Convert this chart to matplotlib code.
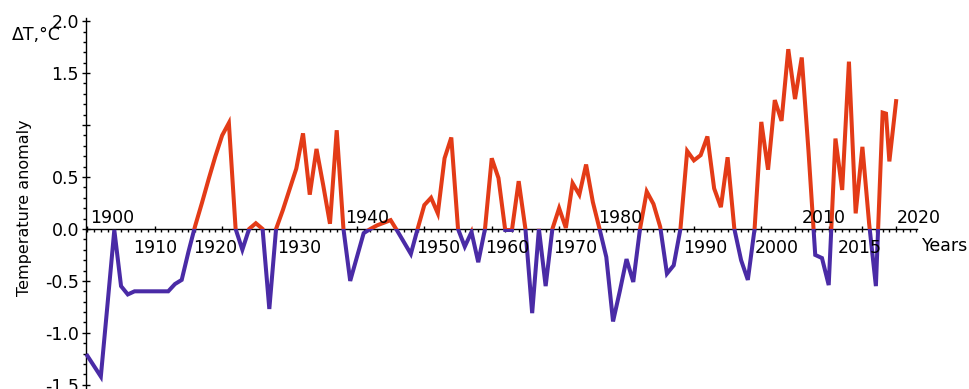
import matplotlib
matplotlib.use('Agg')
import matplotlib.pyplot as plt
from matplotlib.patches import Rectangle
from matplotlib.ticker import MultipleLocator, FixedLocator

# temperature anomaly
years = [1900, 1901, 1902, 1903, 1904, 1905, 1906, 1907, 1908, 1909,
         1910, 1911, 1912, 1913, 1914, 1915, 1916, 1917, 1918, 1919,
         1920, 1921, 1922, 1923, 1924, 1925, 1926, 1927, 1928, 1929,
         1930, 1931, 1932, 1933, 1934, 1935, 1936, 1937, 1938, 1939,
         1940, 1941, 1942, 1943, 1944, 1945, 1946, 1947, 1948, 1949,
         1950, 1951, 1952, 1953, 1954, 1955, 1956, 1957, 1958, 1959,
         1960, 1961, 1962, 1963, 1964, 1965, 1966, 1967, 1968, 1969,
         1970, 1971, 1972, 1973, 1974, 1975, 1976, 1977, 1978, 1979,
         1980, 1981, 1982, 1983, 1984, 1985, 1986, 1987, 1988, 1989,
         1990, 1991, 1992, 1993, 1994, 1995, 1996, 1997, 1998, 1999,
         2000, 2001, 2002, 2003, 2004, 2005, 2006, 2007, 2008, 2009,
         2010, 2011, 2012, 2013, 2014, 2015, 2016, 2017, 2018, 2018.5,
         2019, 2020]
anomaly = [-1.22, -1.32, -1.42, -0.72, -0.01, -0.55, -0.63, -0.60, -0.60, -0.60,
           -0.60, -0.60, -0.60, -0.53, -0.49, -0.22, 0.03, 0.25, 0.48, 0.70,
           0.90, 1.02, 0.00, -0.20, 0.00, 0.055, 0.00, -0.77, 0.00, 0.18,
           0.38, 0.58, 0.92, 0.33, 0.77, 0.42, 0.05, 0.95, 0.00, -0.50,
           -0.27, -0.04, 0.00, 0.035, 0.06, 0.085, -0.02, -0.13, -0.24, 0.00,
           0.23, 0.30, 0.15, 0.68, 0.88, 0.00, -0.17, -0.03, -0.32, 0.00,
           0.68, 0.49, -0.01, -0.01, 0.46, 0.00, -0.81, 0.00, -0.55, 0.00,
           0.20, 0.01, 0.44, 0.33, 0.62, 0.26, 0.00, -0.27, -0.89, -0.60,
           -0.29, -0.51, 0.00, 0.36, 0.24, 0.02, -0.43, -0.35, 0.00, 0.75,
           0.66, 0.71, 0.89, 0.39, 0.21, 0.69, 0.00, -0.30, -0.49, 0.00,
           1.03, 0.57, 1.24, 1.04, 1.73, 1.25, 1.65, 0.75, -0.25, -0.28,
           -0.54, 0.87, 0.375, 1.61, 0.15, 0.79, 0.05, -0.55, 1.12, 1.11,
           0.65, 1.23]

# tick labels, placed above or below the axis like the original
above_labels = ['1900', '1940', '1980', '2010', '2020']
above_x = [1900.4, 1938.2, 1975.8, 2006.0, 2020.1]
below_labels = ['1910', '1920', '1930', '1950', '1960', '1970', '1990', '2000', '2015']
below_x = [1906.8, 1915.7, 1928.1, 1948.8, 1959.0, 1969.1, 1988.4, 1999.0, 2011.4]
x_major = [1900, 1910, 1920, 1930, 1940, 1950, 1960, 1970, 1980, 1990,
           2000, 2005, 2010, 2015, 2020]
y_major = [-1.5, -1.0, -0.5, 0.0, 0.5, 1.0, 1.5, 2.0]
y_labels = ['-1.5', '-1.0', '-0.5', '0.0', '0.5', '', '1.5', '2.0']

red = '#e33b17'
blue = '#4a2ba6'
fs = 12.5

fig = plt.figure(figsize=(9.7, 3.89), dpi=100)
ax = fig.add_axes([86 / 970, 0.0, (917 - 86) / 970, 1 - 18 / 389])
ax.set_xlim(1899.8, 2023.1)
ax.set_ylim(-1.54, 2.03)

top = Rectangle((1890, 0), 200, 10, transform=ax.transData)
bottom = Rectangle((1890, -10), 200, 10, transform=ax.transData)
l1, = ax.plot(years, anomaly, color=red, lw=2.9, solid_joinstyle='miter', zorder=3)
l1.set_clip_path(top)
l2, = ax.plot(years, anomaly, color=blue, lw=2.9, solid_joinstyle='miter', zorder=3)
l2.set_clip_path(bottom)

for s in ['top', 'right']:
    ax.spines[s].set_visible(False)
ax.spines['bottom'].set_position(('data', 0))
ax.spines['bottom'].set_linewidth(1.0)
ax.spines['left'].set_linewidth(1.0)

ax.xaxis.set_major_locator(FixedLocator(x_major))
ax.xaxis.set_minor_locator(MultipleLocator(1))
ax.tick_params(axis='x', which='major', direction='inout', length=5, width=1, labelbottom=False)
ax.tick_params(axis='x', which='minor', direction='out', length=2, width=1)

ax.set_yticks(y_major)
ax.set_yticklabels(y_labels)
ax.yaxis.set_minor_locator(MultipleLocator(0.1))
ax.tick_params(axis='y', which='major', direction='inout', length=6, width=1, labelsize=fs, pad=2)
ax.tick_params(axis='y', which='minor', direction='out', length=2.5, width=1)

for lab, x in zip(above_labels, above_x):
    ax.text(x, 0.105, lab, fontsize=fs, ha='left', va='center', clip_on=False)
for lab, x in zip(below_labels, below_x):
    ax.text(x, -0.18, lab, fontsize=fs, ha='left', va='center', clip_on=False)

fig.text(922 / 970, 1 - 246 / 389, 'Years', fontsize=fs, ha='left', va='center')
fig.text(12 / 970, 1 - 35 / 389, 'ΔT,°C', fontsize=fs, ha='left', va='center')
fig.text(25 / 970, 1 - 208 / 389, 'Temperature anomaly', fontsize=11.5,
         rotation=90, ha='center', va='center')

fig.savefig('out.png', dpi=100)
